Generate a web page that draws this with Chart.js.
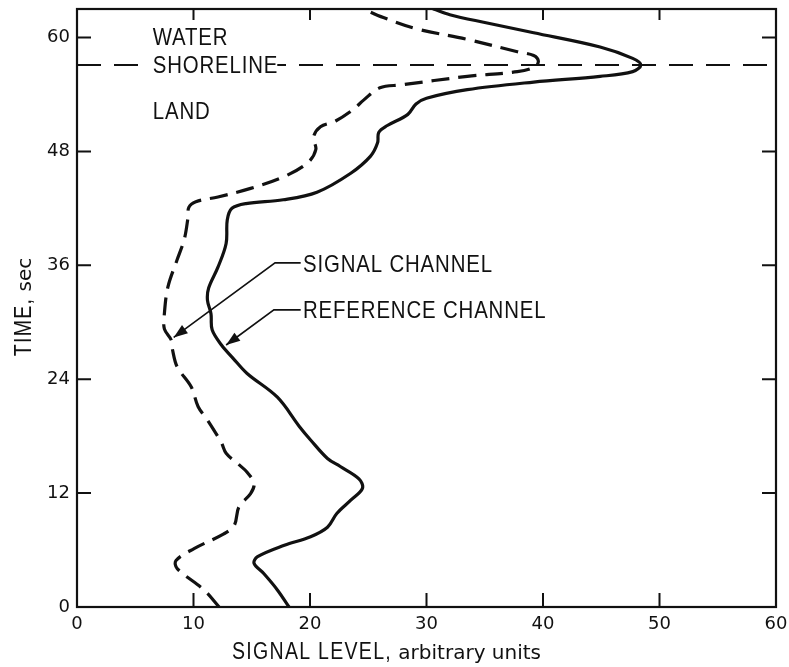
<!DOCTYPE html>
<html><head><meta charset="utf-8">
<script src="https://cdn.jsdelivr.net/npm/chart.js@4/dist/chart.umd.min.js"></script>
<style>html,body{margin:0;padding:0;background:#fff}#wrap{width:789px;height:667px}</style>
</head><body><div id="wrap"><canvas id="c" width="789" height="667"></canvas></div>
<script>
// ---- data (signal level vs time) ----
const refTime   = [0,1.8,3.5,4.6,5.3,6.5,7.4,8.4,9.85,11.25,12.5,13.5,14.8,15.65,17.6,19.0,22.1,24.6,26.2,27.6,29.2,30.9,32.3,33.6,35.8,38.3,40.8,42.0,42.5,42.9,43.7,45.7,47.5,48.9,50.0,50.7,51.9,53.0,53.6,54.5,55.3,55.9,56.4,57.1,57.8,59.0,60.5,61.6,62.4,63.0];
const refSignal = [18.2,17.2,16.05,15.2,15.5,17.8,20.05,21.5,22.3,23.5,24.5,24.2,22.6,21.5,20.05,19.1,17.2,14.6,13.4,12.4,11.6,11.5,11.2,11.3,12.1,12.8,12.9,13.3,14.5,17.7,20.6,23.5,25.2,25.8,25.9,26.6,28.4,29.1,30.0,33.5,39.2,44.9,47.7,48.4,47.7,44.9,39.2,34.9,32.0,30.6];
const sigTime   = [0,1.8,4.05,4.9,6.15,7.7,8.6,10.55,11.95,13.0,14.2,15.1,16.2,17.3,19.7,21.1,23.2,25.3,27.1,28.1,29.3,30.9,33.7,36.6,38.7,40.8,42.1,42.7,43.2,44.1,45.3,46.8,48.2,49.5,50.6,51.2,52.4,53.4,54.7,55.0,55.9,56.4,56.9,57.5,58.1,58.5,59.8,60.9,62.1,63.0];
const sigSignal = [12.2,10.9,8.6,8.5,10.05,12.6,13.5,13.9,14.9,15.2,14.6,13.8,12.8,12.4,11.2,10.4,9.8,8.6,8.2,8.1,7.5,7.5,7.8,8.6,9.2,9.5,9.6,10.2,12.1,14.9,17.7,19.8,20.5,20.3,20.9,22.2,23.7,24.6,26.0,27.8,33.5,37.8,39.3,39.6,39.2,37.8,33.5,29.2,26.3,24.6];
const xTicks = [0,10,20,30,40,50,60];
const yTicks = [0,12,24,36,48,60];
const shorelineTime = 57.1;
const zoneLabels = ["WATER","SHORELINE","LAND"];
const zoneLabelX = [6.5,6.5,6.5];
const zoneLabelY = [60,57.1,52.2];
const channelLabels = ["SIGNAL CHANNEL","REFERENCE CHANNEL"];
const channelLabelX = [19.4,19.4];
const channelLabelY = [36.05,31.3];
// leader lines: [x,y] points, last point is arrow tip
const leaderSignal = [[19.2,36.25],[17.0,36.25],[8.3,28.4]];
const leaderRef    = [[19.2,31.3],[16.9,31.3],[12.8,27.6]];
const xTitleCaps = 'SIGNAL LEVEL,', xTitleRest = ' arbitrary units';
const yTitleCaps = 'TIME,', yTitleRest = ' sec';

const toPts = (xs, ys) => xs.map((v,i)=>({x:v,y:ys[i]}));
const NARROW = '"Liberation Sans Narrow","Liberation Sans",sans-serif';
const ROUND = '"DejaVu Sans",sans-serif';
const SX = 0.85;
function drawText(ctx, t, x, y, sx){ ctx.save(); ctx.translate(x,y); ctx.scale(sx,1); ctx.fillText(t,0,0); ctx.restore(); }
function setLS(ctx, v){ try { ctx.letterSpacing = v; } catch(e){} }

const decor = {
  id:'decor',
  afterDatasetsDraw(chart){
    const ctx = chart.ctx, xs = chart.scales.x, ys = chart.scales.y;
    ctx.save();
    ctx.fillStyle = '#111'; ctx.strokeStyle = '#111';
    ctx.textBaseline = 'middle'; ctx.textAlign = 'left';
    ctx.font = '24px ' + NARROW;
    setLS(ctx, '1px');
    zoneLabels.forEach((t,i)=>{
      const px = xs.getPixelForValue(zoneLabelX[i]), py = ys.getPixelForValue(zoneLabelY[i]);
      const w = ctx.measureText(t).width * SX;
      if (t === 'SHORELINE') { ctx.fillStyle = '#fff'; ctx.fillRect(px-9, py-6, w+8, 12); ctx.fillStyle='#111'; }
      drawText(ctx, t, px, py+1, SX);
    });
    channelLabels.forEach((t,i)=>{
      drawText(ctx, t, xs.getPixelForValue(channelLabelX[i]), ys.getPixelForValue(channelLabelY[i])+1, SX);
    });
    [leaderSignal, leaderRef].forEach(L=>{
      const p = L.map(q=>[xs.getPixelForValue(q[0]), ys.getPixelForValue(q[1])]);
      ctx.lineWidth = 1.6; ctx.setLineDash([]);
      ctx.beginPath(); ctx.moveTo(p[0][0],p[0][1]);
      for (let i=1;i<p.length;i++) ctx.lineTo(p[i][0],p[i][1]);
      ctx.stroke();
      const [bx,by] = p[p.length-2], [tx,ty] = p[p.length-1];
      const ang = Math.atan2(ty-by, tx-bx), len = 14, hw = 5;
      ctx.beginPath();
      ctx.moveTo(tx,ty);
      ctx.lineTo(tx - len*Math.cos(ang) + hw*Math.sin(ang), ty - len*Math.sin(ang) - hw*Math.cos(ang));
      ctx.lineTo(tx - len*Math.cos(ang) - hw*Math.sin(ang), ty - len*Math.sin(ang) + hw*Math.cos(ang));
      ctx.closePath(); ctx.fill();
    });
    ctx.restore();
  },
  afterDraw(chart){
    const ctx = chart.ctx, xs = chart.scales.x, ys = chart.scales.y, a = chart.chartArea;
    ctx.save();
    ctx.strokeStyle = '#111'; ctx.lineWidth = 2.2; ctx.setLineDash([]);
    ctx.strokeRect(a.left, a.top, a.right-a.left, a.bottom-a.top);
    const tl = 14;
    ctx.lineWidth = 2;
    ctx.beginPath();
    xTicks.forEach(v=>{
      const px = xs.getPixelForValue(v);
      if (v>0 && v<60){ ctx.moveTo(px,a.bottom); ctx.lineTo(px,a.bottom-tl); ctx.moveTo(px,a.top); ctx.lineTo(px,a.top+tl-3); }
    });
    yTicks.forEach(v=>{
      const py = ys.getPixelForValue(v);
      if (v>0){ ctx.moveTo(a.left,py); ctx.lineTo(a.left+tl,py); ctx.moveTo(a.right,py); ctx.lineTo(a.right-tl,py); }
    });
    ctx.stroke();
    ctx.fillStyle = '#111'; ctx.textBaseline = 'alphabetic'; ctx.textAlign = 'left';
    const f1 = '23px ' + NARROW, f2 = '20px ' + ROUND;
    // x title
    ctx.font = f1; setLS(ctx,'1.5px');
    const w1 = ctx.measureText(xTitleCaps).width * SX;
    const sx = a.left + 155;
    drawText(ctx, xTitleCaps, sx, 659, SX);
    ctx.font = f2; setLS(ctx,'0px');
    ctx.fillText(xTitleRest, sx + w1, 659);
    // y title
    ctx.translate(31, 307); ctx.rotate(-Math.PI/2);
    ctx.font = f1; setLS(ctx,'1.5px');
    const yw1 = ctx.measureText(yTitleCaps).width * SX;
    ctx.font = f2; setLS(ctx,'0px');
    const yw2 = ctx.measureText(yTitleRest).width;
    const st = -(yw1+yw2)/2;
    ctx.font = f1; setLS(ctx,'1.5px');
    drawText(ctx, yTitleCaps, st, 0, SX);
    ctx.font = f2; setLS(ctx,'0px');
    ctx.fillText(yTitleRest, st + yw1, 0);
    ctx.restore();
  }
};

new Chart(document.getElementById('c'), {
  type: 'scatter',
  data: { datasets: [
    { label:'Shoreline', data: toPts([0,60],[shorelineTime,shorelineTime]), showLine:true, borderColor:'#111', borderWidth:2, borderDash:[24,13], pointRadius:0, tension:0 },
    { label:'Reference channel', data: toPts(refSignal, refTime), showLine:true, borderColor:'#111', borderWidth:3.2, pointRadius:0, tension:0.35, borderCapStyle:'round', borderJoinStyle:'round' },
    { label:'Signal channel', data: toPts(sigSignal, sigTime), showLine:true, borderColor:'#111', borderWidth:3.2, borderDash:[18,9], pointRadius:0, tension:0.35 }
  ]},
  options: {
    responsive:false, animation:false, devicePixelRatio:1,
    layout:{ padding:{ top:9, right:13, left:0, bottom:0 } },
    plugins:{ legend:{display:false}, tooltip:{enabled:false} },
    scales:{
      x:{ type:'linear', min:0, max:60,
          afterBuildTicks: s => { s.ticks = xTicks.map(v=>({value:v})); },
          afterFit: s => { s.height = 60; s.paddingLeft = 0; s.paddingRight = 0; },
          grid:{ display:false, drawTicks:false }, border:{ display:true, color:'#111', width:2 },
          ticks:{ padding:7, color:'#111', font:{ family:'DejaVu Sans', size:18 }, maxRotation:0 } },
      y:{ type:'linear', min:0, max:63,
          afterBuildTicks: s => { s.ticks = yTicks.map(v=>({value:v})); },
          afterFit: s => { s.width = 77; s.paddingTop = 0; s.paddingBottom = 0; },
          grid:{ display:false, drawTicks:false }, border:{ display:true, color:'#111', width:2 },
          ticks:{ padding:7, color:'#111', font:{ family:'DejaVu Sans', size:18 } } }
    }
  },
  plugins:[decor]
});
</script></body></html>
